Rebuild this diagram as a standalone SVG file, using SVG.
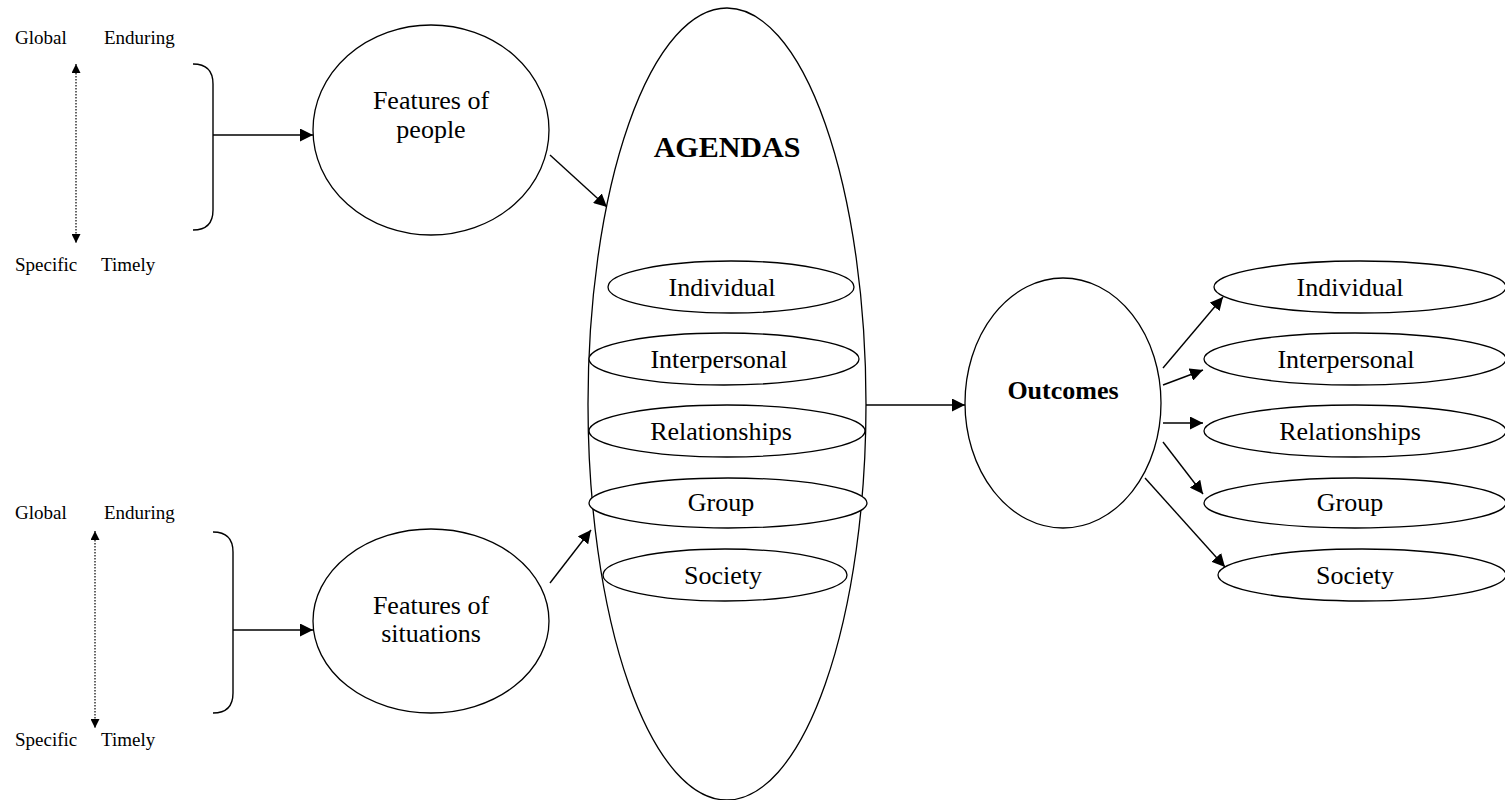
<svg xmlns="http://www.w3.org/2000/svg" width="1505" height="800" viewBox="0 0 1505 800">
  <style>
    .shape { fill: #ffffff; stroke: #000000; stroke-width: 1.3; }
    .line { fill: none; stroke: #000000; stroke-width: 1.4; }
    .dot { fill: none; stroke: #000000; stroke-width: 1.2; stroke-dasharray: 1.5 1.5; }
    .label { font-family: "Liberation Serif", "Times New Roman", serif; font-size: 26px; fill: #000000; text-anchor: middle; }
    .bold { font-weight: bold; }
    .small { font-family: "Liberation Serif", "Times New Roman", serif; font-size: 19px; fill: #000000; }
  </style>
  <defs>
    <marker id="arrow" viewBox="0 0 10 10" refX="10" refY="5" markerWidth="13" markerHeight="13" markerUnits="userSpaceOnUse" orient="auto">
      <path d="M0,0 L10,5 L0,10 z" fill="#000000"/>
    </marker>
    <marker id="tip" viewBox="0 0 10 10" refX="10" refY="5" markerWidth="9" markerHeight="9" markerUnits="userSpaceOnUse" orient="auto-start-reverse">
      <path d="M0,0 L10,5 L0,10 z" fill="#000000"/>
    </marker>
  </defs>

  <rect width="1505" height="800" fill="#ffffff"/>

  <!-- scale legends -->
  <g id="scale-people">
    <text class="small" x="15" y="44">Global</text>
    <text class="small" x="104" y="44">Enduring</text>
    <text class="small" x="15" y="271">Specific</text>
    <text class="small" x="101" y="271">Timely</text>
    <line class="dot" x1="76" y1="64" x2="76" y2="243" marker-start="url(#tip)" marker-end="url(#tip)"/>
    <path class="line" d="M193,64 Q213,64 213,84 L213,210 Q213,230 193,230"/>
  </g>
  <g id="scale-situations">
    <text class="small" x="15" y="519">Global</text>
    <text class="small" x="104" y="519">Enduring</text>
    <text class="small" x="15" y="746">Specific</text>
    <text class="small" x="101" y="746">Timely</text>
    <line class="dot" x1="95" y1="531" x2="95" y2="728" marker-start="url(#tip)" marker-end="url(#tip)"/>
    <path class="line" d="M213,532 Q233,532 233,552 L233,693 Q233,713 213,713"/>
  </g>

  <!-- connectors -->
  <g id="connectors">
    <line class="line" x1="213" y1="135" x2="313" y2="135" marker-end="url(#arrow)"/>
    <line class="line" x1="233" y1="630" x2="313" y2="630" marker-end="url(#arrow)"/>
    <line class="line" x1="550" y1="155" x2="607" y2="207" marker-end="url(#arrow)"/>
    <line class="line" x1="550" y1="583" x2="591" y2="530" marker-end="url(#arrow)"/>
    <line class="line" x1="866" y1="405" x2="965" y2="405" marker-end="url(#arrow)"/>
    <line class="line" x1="1163" y1="368" x2="1223" y2="297" marker-end="url(#arrow)"/>
    <line class="line" x1="1163" y1="385" x2="1203" y2="370" marker-end="url(#arrow)"/>
    <line class="line" x1="1163" y1="423" x2="1203" y2="423" marker-end="url(#arrow)"/>
    <line class="line" x1="1163" y1="442" x2="1203" y2="494" marker-end="url(#arrow)"/>
    <line class="line" x1="1145" y1="478" x2="1225" y2="567" marker-end="url(#arrow)"/>
  </g>

  <!-- sources -->
  <g id="features-people">
    <ellipse class="shape" cx="431" cy="130" rx="118" ry="105"/>
    <text class="label" x="431" y="109">Features of</text>
    <text class="label" x="431" y="138">people</text>
  </g>
  <g id="features-situations">
    <ellipse class="shape" cx="431" cy="621" rx="118" ry="92"/>
    <text class="label" x="431" y="614">Features of</text>
    <text class="label" x="431" y="642">situations</text>
  </g>

  <!-- agendas -->
  <g id="agendas">
    <ellipse class="shape" cx="727" cy="404" rx="139" ry="396"/>
    <text class="label bold" x="727" y="157" style="font-size:30px">AGENDAS</text>
  </g>
  <g id="agenda-individual">
    <ellipse class="shape" cx="731" cy="287" rx="123" ry="26"/>
    <text class="label" x="722" y="296">Individual</text>
  </g>
  <g id="agenda-interpersonal">
    <ellipse class="shape" cx="724" cy="359" rx="135" ry="26"/>
    <text class="label" x="719" y="368">Interpersonal</text>
  </g>
  <g id="agenda-relationships">
    <ellipse class="shape" cx="727" cy="431" rx="138" ry="26"/>
    <text class="label" x="721" y="440">Relationships</text>
  </g>
  <g id="agenda-group">
    <ellipse class="shape" cx="728" cy="503" rx="139" ry="25"/>
    <text class="label" x="721" y="511">Group</text>
  </g>
  <g id="agenda-society">
    <ellipse class="shape" cx="725" cy="575" rx="122" ry="26"/>
    <text class="label" x="723" y="584">Society</text>
  </g>

  <!-- outcomes -->
  <g id="outcomes">
    <ellipse class="shape" cx="1063" cy="403" rx="98" ry="125"/>
    <text class="label bold" x="1063" y="399">Outcomes</text>
  </g>
  <g id="outcome-individual">
    <ellipse class="shape" cx="1360" cy="287" rx="146" ry="26"/>
    <text class="label" x="1350" y="296">Individual</text>
  </g>
  <g id="outcome-interpersonal">
    <ellipse class="shape" cx="1355" cy="359" rx="151" ry="26"/>
    <text class="label" x="1346" y="368">Interpersonal</text>
  </g>
  <g id="outcome-relationships">
    <ellipse class="shape" cx="1355" cy="431" rx="151" ry="26"/>
    <text class="label" x="1350" y="440">Relationships</text>
  </g>
  <g id="outcome-group">
    <ellipse class="shape" cx="1355" cy="503" rx="151" ry="25"/>
    <text class="label" x="1350" y="511">Group</text>
  </g>
  <g id="outcome-society">
    <ellipse class="shape" cx="1362" cy="575" rx="144" ry="26"/>
    <text class="label" x="1355" y="584">Society</text>
  </g>
</svg>
